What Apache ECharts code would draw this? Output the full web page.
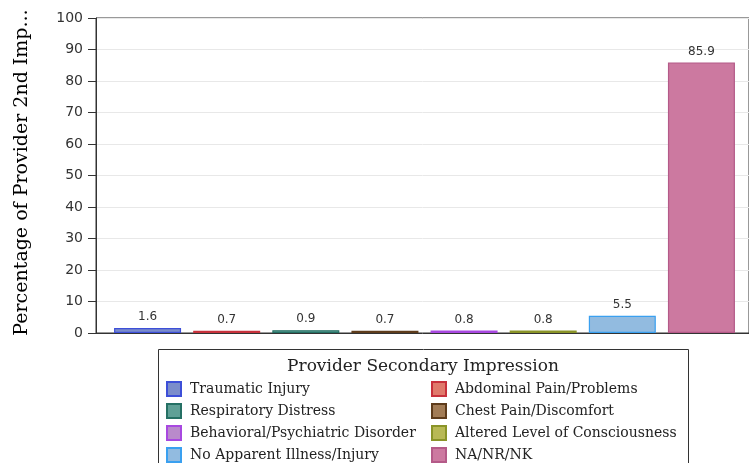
<!DOCTYPE html>
<html><head><meta charset="utf-8">
<script src="https://cdn.jsdelivr.net/npm/echarts@6/dist/echarts.min.js"></script>
<style>html,body{margin:0;padding:0;background:#fff}#c{width:749px;height:463px}</style>
</head><body><div id="c"></div>
<script>
const categories = ["Traumatic Injury","Abdominal Pain/Problems","Respiratory Distress","Chest Pain/Discomfort","Behavioral/Psychiatric Disorder","Altered Level of Consciousness","No Apparent Illness/Injury","NA/NR/NK"];
const values = [1.6, 0.7, 0.9, 0.7, 0.8, 0.8, 5.5, 85.9];
const yTicks = [0,10,20,30,40,50,60,70,80,90,100];
const fills = ["#7b8dcb","#e07a6c","#5fa096","#a27c56","#b98acb","#b8b955","#92bbe0","#cc79a0"];
const borders = ["#3d4fd8","#c8323c","#257064","#5e3c1c","#a848e0","#8a9428","#3aa0f0","#b45a88"];
const legendTitle = "Provider Secondary Impression";
const yName = "Percentage of Provider 2nd Imp...";

const serif = "DejaVu Serif";
const series = categories.map((name, i) => ({
  name, type: 'bar', stack: 'all', xAxisIndex: 1, yAxisIndex: 1,
  barWidth: 67,
  data: categories.map((c, j) => j === i ? values[i] : '-'),
  itemStyle: { color: fills[i], borderColor: borders[i], borderWidth: 1.2 },
  label: { show: true, position: 'top', distance: 5, color: '#333', fontFamily: 'DejaVu Sans', fontSize: 12,
    formatter: p => p.value.toFixed(1) }
}));

const legendText = { fontFamily: serif, fontSize: 14, color: '#222', lineHeight: 14, padding: [0, 0, 0, 4] };
const chart = echarts.init(document.getElementById('c'), null, {renderer:'canvas'});
chart.setOption({
  animation: false,
  grid: [
    { left: 96, right: 0, top: 18, bottom: 130, show: true, borderColor: '#333', borderWidth: 1 },
    { left: 108, right: 8, top: 18, bottom: 130 }
  ],
  xAxis: [
    { gridIndex: 0, type: 'category', data: categories, axisLabel: {show:false}, axisTick:{show:false},
      axisLine: { show: true, lineStyle: { color: '#333' } } },
    { gridIndex: 1, type: 'category', data: categories, show: false }
  ],
  yAxis: [
    { gridIndex: 0, type: 'value', min: yTicks[0], max: yTicks[yTicks.length-1], interval: 10,
      name: yName, nameLocation: 'middle', nameGap: 64,
      nameTextStyle: { fontFamily: serif, fontSize: 19, color: '#000', padding: [0, 0, 0, 6] },
      axisLine: { show: true, lineStyle: { color: '#333' } },
      axisTick: { show: true, length: 8, lineStyle: { color: '#333' } },
      axisLabel: { color: '#333', fontFamily: 'DejaVu Sans', fontSize: 14, margin: 13 },
      splitLine: { show: true, lineStyle: { color: '#e8e8e8' } } },
    { gridIndex: 1, type: 'value', min: 0, max: 100, show: false, splitLine: {show:false} }
  ],
  legend: [
    { orient: 'vertical', left: 166, top: 381, height: 120, padding: 0, icon: 'rect', itemWidth: 14, itemHeight: 14, itemGap: 6,
      data: [categories[0], categories[2], categories[4], categories[6]], textStyle: legendText },
    { orient: 'vertical', left: 431, top: 381, height: 120, padding: 0, icon: 'rect', itemWidth: 14, itemHeight: 14, itemGap: 6,
      data: [categories[1], categories[3], categories[5], categories[7]], textStyle: legendText }
  ],
  graphic: [
    { type: 'rect', shape: { x: 158.5, y: 349.5, width: 530, height: 130 }, style: { fill: 'none', stroke: '#333', lineWidth: 1 }, silent: true },
    { type: 'text', x: 423, y: 358, style: { text: legendTitle, font: '17px "DejaVu Serif"', fill: '#222', textAlign: 'center' } }
  ],
  series
});
</script></body></html>
